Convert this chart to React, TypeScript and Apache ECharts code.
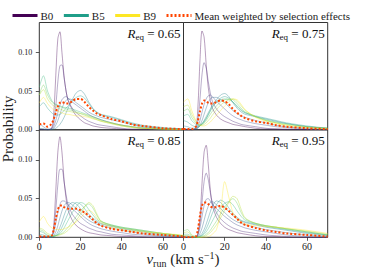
import React, { useEffect, useRef } from "react";
import * as echarts from "echarts";

// Shared run-velocity sample points (km/s)
const vRun = [0, 2, 4, 6, 7, 8, 9, 10, 11, 12, 13, 14, 16, 18, 20, 22, 24, 26, 28, 30, 35, 40, 45, 50, 60, 70];

const binNames = ["B0", "B1", "B2", "B3", "B4", "B5", "B6", "B7", "B8", "B9"];
const binColors = ["#440154", "#482878", "#3e4989", "#31688e", "#26828e", "#1f9e89", "#35b779", "#6ece58", "#b5de2b", "#fde725"];
const legendNames = ["B0", "B5", "B9", "Mean weighted by selection effects"];
const meanName = "Mean weighted by selection effects";
const panelReq = ["0.65", "0.75", "0.85", "0.95"];
const xTicks = [0, 20, 40, 60];
const yTicks = [0, 0.05, 0.1];

// R_eq = 0.65
const probR065 = [
  [0, 0, 0, 0.002, 0.02, 0.07, 0.118, 0.127, 0.1, 0.07, 0.05, 0.038, 0.026, 0.018, 0.013, 0.009, 0.007, 0.005, 0.004, 0.003, 0.002, 0.001, 0, 0, 0, 0],
  [0, 0, 0, 0.002, 0.008, 0.03, 0.062, 0.083, 0.084, 0.068, 0.05, 0.038, 0.028, 0.022, 0.018, 0.014, 0.011, 0.009, 0.007, 0.006, 0.004, 0.002, 0.001, 0.001, 0, 0],
  [0.001, 0.001, 0, 0.001, 0.004, 0.012, 0.022, 0.032, 0.039, 0.042, 0.043, 0.041, 0.036, 0.032, 0.028, 0.024, 0.02, 0.017, 0.015, 0.013, 0.009, 0.006, 0.004, 0.002, 0.001, 0],
  [0.008, 0.004, 0.001, 0.001, 0.002, 0.006, 0.012, 0.02, 0.028, 0.034, 0.038, 0.04, 0.039, 0.035, 0.031, 0.027, 0.023, 0.02, 0.018, 0.016, 0.013, 0.01, 0.007, 0.004, 0.002, 0.001],
  [0.002, 0.001, 0, 0, 0.001, 0.002, 0.004, 0.007, 0.011, 0.016, 0.022, 0.028, 0.039, 0.048, 0.051, 0.046, 0.036, 0.028, 0.022, 0.019, 0.016, 0.012, 0.008, 0.005, 0.002, 0.001],
  [0.03, 0.035, 0.028, 0.022, 0.02, 0.019, 0.019, 0.02, 0.022, 0.025, 0.028, 0.031, 0.037, 0.042, 0.044, 0.041, 0.034, 0.027, 0.023, 0.02, 0.017, 0.013, 0.009, 0.006, 0.003, 0.001],
  [0.055, 0.07, 0.05, 0.038, 0.035, 0.033, 0.032, 0.031, 0.03, 0.029, 0.029, 0.028, 0.027, 0.025, 0.023, 0.021, 0.019, 0.017, 0.015, 0.013, 0.009, 0.006, 0.004, 0.003, 0.001, 0.001],
  [0.045, 0.058, 0.045, 0.036, 0.034, 0.032, 0.031, 0.03, 0.029, 0.028, 0.027, 0.026, 0.025, 0.023, 0.021, 0.019, 0.017, 0.015, 0.013, 0.011, 0.008, 0.005, 0.003, 0.002, 0.001, 0],
  [0.045, 0.052, 0.04, 0.033, 0.031, 0.029, 0.028, 0.027, 0.026, 0.025, 0.024, 0.024, 0.023, 0.022, 0.021, 0.02, 0.018, 0.016, 0.014, 0.012, 0.009, 0.006, 0.004, 0.002, 0.001, 0],
  [0.035, 0.042, 0.034, 0.028, 0.026, 0.025, 0.024, 0.023, 0.022, 0.021, 0.02, 0.02, 0.019, 0.018, 0.018, 0.017, 0.016, 0.014, 0.013, 0.011, 0.008, 0.005, 0.003, 0.002, 0.001, 0],
];
const meanR065 = [0.007, 0.008, 0.004, 0.008, 0.014, 0.022, 0.03, 0.035, 0.036, 0.035, 0.034, 0.034, 0.037, 0.04, 0.04, 0.036, 0.03, 0.025, 0.021, 0.019, 0.014, 0.011, 0.007, 0.005, 0.002, 0.001];

// R_eq = 0.75
const probR075 = [
  [0, 0, 0, 0.003, 0.03, 0.09, 0.128, 0.12, 0.085, 0.055, 0.038, 0.028, 0.019, 0.014, 0.011, 0.009, 0.007, 0.006, 0.005, 0.004, 0.002, 0.001, 0.001, 0, 0, 0],
  [0, 0, 0, 0.002, 0.012, 0.04, 0.072, 0.087, 0.08, 0.063, 0.048, 0.037, 0.027, 0.021, 0.017, 0.014, 0.011, 0.009, 0.007, 0.006, 0.004, 0.002, 0.001, 0.001, 0, 0],
  [0, 0, 0, 0.001, 0.004, 0.012, 0.023, 0.033, 0.04, 0.044, 0.045, 0.043, 0.037, 0.032, 0.027, 0.022, 0.018, 0.015, 0.013, 0.011, 0.008, 0.006, 0.004, 0.003, 0.001, 0],
  [0.002, 0.001, 0, 0.001, 0.002, 0.006, 0.012, 0.02, 0.028, 0.035, 0.04, 0.042, 0.042, 0.039, 0.035, 0.03, 0.025, 0.021, 0.018, 0.016, 0.012, 0.009, 0.006, 0.004, 0.002, 0.001],
  [0.005, 0.004, 0.002, 0.002, 0.003, 0.005, 0.008, 0.012, 0.017, 0.022, 0.027, 0.032, 0.039, 0.045, 0.047, 0.043, 0.035, 0.028, 0.023, 0.02, 0.017, 0.014, 0.011, 0.008, 0.004, 0.002],
  [0.012, 0.01, 0.006, 0.004, 0.004, 0.005, 0.007, 0.01, 0.014, 0.019, 0.024, 0.029, 0.036, 0.041, 0.043, 0.041, 0.036, 0.03, 0.025, 0.022, 0.018, 0.015, 0.012, 0.009, 0.005, 0.002],
  [0.018, 0.02, 0.012, 0.007, 0.006, 0.006, 0.008, 0.011, 0.015, 0.02, 0.025, 0.03, 0.036, 0.039, 0.04, 0.039, 0.036, 0.031, 0.026, 0.022, 0.017, 0.013, 0.01, 0.008, 0.004, 0.002],
  [0.024, 0.027, 0.016, 0.009, 0.007, 0.006, 0.007, 0.009, 0.012, 0.016, 0.02, 0.024, 0.031, 0.036, 0.039, 0.04, 0.039, 0.034, 0.028, 0.023, 0.017, 0.012, 0.009, 0.007, 0.004, 0.002],
  [0.03, 0.032, 0.02, 0.011, 0.008, 0.006, 0.006, 0.007, 0.009, 0.012, 0.015, 0.019, 0.026, 0.032, 0.036, 0.039, 0.04, 0.037, 0.031, 0.025, 0.017, 0.012, 0.009, 0.006, 0.003, 0.002],
  [0.036, 0.04, 0.025, 0.012, 0.008, 0.006, 0.005, 0.005, 0.006, 0.008, 0.01, 0.013, 0.019, 0.025, 0.031, 0.036, 0.04, 0.039, 0.033, 0.026, 0.016, 0.011, 0.008, 0.006, 0.003, 0.001],
];
const meanR075 = [0.001, 0.001, 0.001, 0.004, 0.012, 0.024, 0.034, 0.038, 0.037, 0.035, 0.034, 0.034, 0.036, 0.038, 0.037, 0.033, 0.027, 0.022, 0.018, 0.015, 0.011, 0.009, 0.006, 0.004, 0.002, 0.001];

// R_eq = 0.85
const probR085 = [
  [0, 0, 0, 0.001, 0.015, 0.06, 0.11, 0.13, 0.11, 0.075, 0.05, 0.035, 0.022, 0.015, 0.011, 0.008, 0.006, 0.005, 0.004, 0.003, 0.002, 0.001, 0.001, 0, 0, 0],
  [0, 0, 0, 0.001, 0.01, 0.035, 0.068, 0.088, 0.088, 0.072, 0.055, 0.042, 0.03, 0.023, 0.018, 0.015, 0.012, 0.01, 0.008, 0.007, 0.004, 0.003, 0.002, 0.001, 0, 0],
  [0, 0, 0, 0.001, 0.006, 0.018, 0.032, 0.042, 0.047, 0.047, 0.045, 0.042, 0.037, 0.032, 0.027, 0.022, 0.018, 0.015, 0.013, 0.011, 0.008, 0.006, 0.004, 0.003, 0.001, 0],
  [0.001, 0.001, 0, 0, 0.002, 0.007, 0.015, 0.025, 0.034, 0.041, 0.044, 0.045, 0.042, 0.037, 0.031, 0.026, 0.022, 0.019, 0.017, 0.015, 0.012, 0.009, 0.007, 0.005, 0.002, 0.001],
  [0.002, 0.001, 0, 0, 0.001, 0.003, 0.007, 0.013, 0.02, 0.028, 0.035, 0.04, 0.045, 0.043, 0.037, 0.031, 0.026, 0.022, 0.019, 0.017, 0.014, 0.011, 0.009, 0.007, 0.003, 0.001],
  [0.004, 0.003, 0.001, 0, 0.001, 0.002, 0.004, 0.008, 0.013, 0.019, 0.025, 0.031, 0.04, 0.045, 0.043, 0.037, 0.03, 0.025, 0.021, 0.018, 0.015, 0.012, 0.01, 0.008, 0.004, 0.002],
  [0.008, 0.006, 0.002, 0.001, 0.001, 0.002, 0.003, 0.005, 0.008, 0.012, 0.017, 0.022, 0.032, 0.04, 0.045, 0.043, 0.036, 0.029, 0.023, 0.02, 0.016, 0.013, 0.011, 0.009, 0.005, 0.002],
  [0.01, 0.008, 0.003, 0.002, 0.002, 0.002, 0.003, 0.004, 0.005, 0.007, 0.01, 0.013, 0.02, 0.027, 0.034, 0.04, 0.043, 0.038, 0.028, 0.021, 0.016, 0.013, 0.011, 0.009, 0.005, 0.002],
  [0.012, 0.01, 0.005, 0.003, 0.002, 0.002, 0.002, 0.003, 0.004, 0.005, 0.007, 0.009, 0.015, 0.022, 0.03, 0.039, 0.045, 0.041, 0.03, 0.021, 0.015, 0.012, 0.01, 0.008, 0.005, 0.002],
  [0.02, 0.027, 0.018, 0.012, 0.011, 0.01, 0.01, 0.01, 0.01, 0.011, 0.012, 0.013, 0.016, 0.02, 0.025, 0.031, 0.035, 0.032, 0.025, 0.019, 0.013, 0.01, 0.008, 0.007, 0.005, 0.003],
];
const meanR085 = [0.001, 0.001, 0.001, 0.002, 0.01, 0.024, 0.035, 0.041, 0.041, 0.039, 0.038, 0.037, 0.037, 0.037, 0.035, 0.032, 0.028, 0.023, 0.018, 0.015, 0.011, 0.009, 0.007, 0.005, 0.003, 0.001];

// R_eq = 0.95
const probR095 = [
  [0, 0, 0, 0, 0.005, 0.025, 0.07, 0.11, 0.119, 0.095, 0.062, 0.042, 0.026, 0.018, 0.013, 0.01, 0.008, 0.006, 0.005, 0.004, 0.002, 0.001, 0.001, 0, 0, 0],
  [0, 0, 0, 0, 0.004, 0.018, 0.045, 0.072, 0.083, 0.075, 0.058, 0.045, 0.032, 0.024, 0.019, 0.015, 0.012, 0.01, 0.008, 0.007, 0.005, 0.003, 0.002, 0.001, 0, 0],
  [0, 0, 0, 0, 0.003, 0.012, 0.027, 0.041, 0.049, 0.05, 0.047, 0.043, 0.037, 0.032, 0.027, 0.023, 0.019, 0.016, 0.014, 0.012, 0.009, 0.007, 0.005, 0.003, 0.001, 0],
  [0, 0, 0, 0, 0.001, 0.005, 0.012, 0.022, 0.032, 0.04, 0.045, 0.046, 0.042, 0.037, 0.032, 0.027, 0.023, 0.02, 0.018, 0.016, 0.013, 0.01, 0.008, 0.006, 0.003, 0.001],
  [0, 0, 0, 0, 0.001, 0.002, 0.005, 0.01, 0.017, 0.025, 0.033, 0.04, 0.047, 0.045, 0.039, 0.033, 0.028, 0.024, 0.021, 0.019, 0.016, 0.013, 0.011, 0.009, 0.005, 0.002],
  [0.002, 0.002, 0, 0, 0, 0.001, 0.003, 0.006, 0.011, 0.017, 0.024, 0.031, 0.042, 0.048, 0.045, 0.038, 0.031, 0.026, 0.022, 0.02, 0.017, 0.014, 0.012, 0.01, 0.006, 0.003],
  [0.004, 0.004, 0.001, 0, 0, 0.001, 0.002, 0.004, 0.007, 0.011, 0.016, 0.021, 0.031, 0.039, 0.044, 0.046, 0.042, 0.034, 0.027, 0.022, 0.018, 0.015, 0.013, 0.011, 0.007, 0.003],
  [0.008, 0.01, 0.003, 0.001, 0, 0, 0.001, 0.002, 0.004, 0.006, 0.009, 0.013, 0.021, 0.03, 0.039, 0.046, 0.05, 0.044, 0.032, 0.024, 0.018, 0.015, 0.013, 0.011, 0.007, 0.003],
  [0.006, 0.007, 0.002, 0.001, 0, 0, 0, 0.001, 0.002, 0.004, 0.006, 0.009, 0.016, 0.025, 0.035, 0.045, 0.053, 0.05, 0.036, 0.025, 0.018, 0.015, 0.013, 0.011, 0.008, 0.004],
  [0.002, 0.002, 0, 0, 0, 0, 0, 0, 0, 0.001, 0.002, 0.004, 0.01, 0.032, 0.072, 0.052, 0.032, 0.024, 0.02, 0.017, 0.015, 0.014, 0.013, 0.012, 0.009, 0.005],
];
const meanR095 = [0, 0, 0, 0.001, 0.01, 0.028, 0.041, 0.045, 0.045, 0.043, 0.04, 0.039, 0.039, 0.041, 0.038, 0.034, 0.029, 0.024, 0.019, 0.016, 0.012, 0.009, 0.007, 0.005, 0.003, 0.001];

const panelProbs = [probR065, probR075, probR085, probR095];
const panelMeans = [meanR065, meanR075, meanR085, meanR095];

const SERIF = "'Liberation Serif', 'DejaVu Serif', serif";
const MEAN_COLOR = "#ff4500";

export default function App() {
  const ref = useRef<HTMLDivElement>(null);

  useEffect(() => {
    if (!ref.current) return;
    const chart = echarts.init(ref.current, null, { renderer: "svg" });

    const L = 39.3, M = 183.5, R = 327.7;
    const T = 22.5, H = 129.8, B = 237.3;
    const grids = [
      { left: L, top: T, width: M - L, height: H - T },
      { left: M, top: T, width: R - M, height: H - T },
      { left: L, top: H, width: M - L, height: B - H },
      { left: M, top: H, width: R - M, height: B - H },
    ].map((g) => ({ ...g, show: true, borderColor: "#333", borderWidth: 1, backgroundColor: "transparent" }));

    const xAxes = grids.map((_, i) => ({
      gridIndex: i,
      type: "value",
      min: 0,
      max: 70,
      interval: 20,
      axisLine: { show: false },
      splitLine: { show: false },
      axisTick: { show: i >= 2, customValues: xTicks, length: 3.5, lineStyle: { color: "#333", width: 0.8 } },
      axisLabel: {
        show: i >= 2,
        customValues: xTicks,
        fontFamily: SERIF,
        fontSize: 10,
        color: "#222",
        margin: 4,
      },
    }));

    const yAxes = grids.map((_, i) => ({
      gridIndex: i,
      type: "value",
      min: 0,
      max: 0.139,
      interval: 0.05,
      axisLine: { show: false },
      splitLine: { show: false },
      axisTick: { show: i % 2 === 0, customValues: yTicks, length: 3.5, lineStyle: { color: "#333", width: 0.8 } },
      axisLabel: {
        show: i % 2 === 0,
        customValues: yTicks,
        fontFamily: SERIF,
        fontSize: 8,
        color: "#222",
        margin: 7,
        formatter: (v: number) => v.toFixed(2),
      },
    }));

    const series: any[] = [];
    panelProbs.forEach((probs, p) => {
      probs.forEach((vals, b) => {
        series.push({
          type: "line",
          name: binNames[b],
          xAxisIndex: p,
          yAxisIndex: p,
          data: vRun.map((x, k) => [x, vals[k]]),
          smooth: 0.3,
          symbol: "none",
          z: 2,
          itemStyle: { color: binColors[b] },
          lineStyle: { color: binColors[b], width: 0.9, opacity: 0.42 },
        });
      });
      series.push({
        type: "line",
        name: meanName,
        xAxisIndex: p,
        yAxisIndex: p,
        data: vRun.map((x, k) => [x, panelMeans[p][k]]),
        smooth: 0.3,
        symbol: "none",
        z: 5,
        itemStyle: { color: MEAN_COLOR },
        lineStyle: { color: MEAN_COLOR, width: 2, type: [2, 2] },
      });
    });

    const labelGraphics = grids.map((g, i) => ({
      type: "text",
      x: g.left + g.width - 3,
      y: g.top + 11,
      style: {
        text: `{r|R}{s|eq}{n| = ${panelReq[i]}}`,
        align: "right",
        verticalAlign: "middle",
        rich: {
          r: { fontFamily: SERIF, fontStyle: "italic", fontSize: 13, lineHeight: 16, fill: "#111" },
          s: { fontFamily: SERIF, fontSize: 9, lineHeight: 8, verticalAlign: "bottom", fill: "#111" },
          n: { fontFamily: SERIF, fontSize: 13, lineHeight: 16, fill: "#111" },
        },
      },
    }));

    chart.setOption({
      animation: false,
      backgroundColor: "#fff",
      grid: grids,
      xAxis: xAxes,
      yAxis: yAxes,
      legend: {
        data: legendNames,
        left: 6,
        top: 5,
        width: 365,
        itemWidth: 25,
        itemHeight: 10,
        itemGap: 9,
        lineStyle: { width: 3, opacity: 1 },
        itemStyle: { opacity: 0 },
        textStyle: { fontFamily: SERIF, fontSize: 11, color: "#222", padding: [0, 0, 0, -2] },
      },
      graphic: [
        ...labelGraphics,
        {
          type: "text",
          x: 8,
          y: 129,
          rotation: Math.PI / 2,
          style: {
            text: "Probability",
            fontFamily: SERIF,
            fontSize: 15,
            fill: "#222",
            align: "center",
            verticalAlign: "middle",
          },
        },
        {
          type: "text",
          x: 183,
          y: 259,
          style: {
            text: "{v|v}{s|run}{n| (km s}{p|−1}{n|)}",
            align: "center",
            verticalAlign: "middle",
            rich: {
              v: { fontFamily: SERIF, fontStyle: "italic", fontSize: 15, lineHeight: 18, fill: "#222" },
              s: { fontFamily: SERIF, fontSize: 10, lineHeight: 9, verticalAlign: "bottom", fill: "#222" },
              n: { fontFamily: SERIF, fontSize: 15, lineHeight: 18, fill: "#222" },
              p: { fontFamily: SERIF, fontSize: 10, lineHeight: 9, verticalAlign: "top", fill: "#222" },
            },
          },
        },
      ],
      series,
    });

    return () => chart.dispose();
  }, []);

  return <div ref={ref} style={{ position: "fixed", left: 0, top: 0, width: 365, height: 268 }} />;
}
